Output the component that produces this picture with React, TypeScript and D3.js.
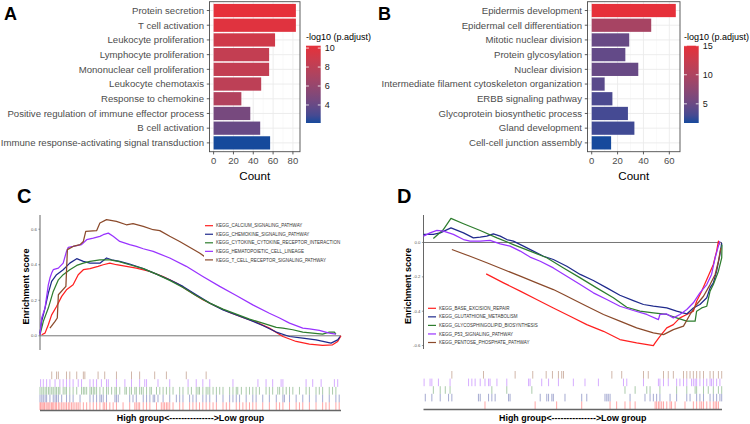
import React from 'react';
import * as d3 from 'd3';

// ---- GO enrichment (panels A and B) ----
const goACategories = [
  'Protein secretion',
  'T cell activation',
  'Leukocyte proliferation',
  'Lymphocyte proliferation',
  'Mononuclear cell proliferation',
  'Leukocyte chemotaxis',
  'Response to chemokine',
  'Positive regulation of immune effector process',
  'B cell activation',
  'Immune response-activating signal transduction',
];
const goACounts = [83, 83, 62, 56, 56, 48, 28, 37, 47, 57];
const goAScores = [10.25, 9.9, 9.0, 8.3, 8.3, 8.0, 7.4, 4.6, 4.0, 2.1];
const goATicks = [0, 20, 40, 60, 80];
const goALegendTicks = [4, 6, 8, 10];

const goBCategories = [
  'Epidermis development',
  'Epidermal cell differentiation',
  'Mitotic nuclear division',
  'Protein glycosylation',
  'Nuclear division',
  'Intermediate filament cytoskeleton organization',
  'ERBB signaling pathway',
  'Glycoprotein biosynthetic process',
  'Gland development',
  'Cell-cell junction assembly',
];
const goBCounts = [65, 46, 29, 26, 36, 10, 16, 28, 33, 15];
const goBScores = [15.0, 9.5, 4.8, 4.5, 4.8, 4.0, 3.3, 3.0, 2.8, 1.7];
const goBTicks = [0, 20, 40, 60];
const goBLegendTicks = [5, 10, 15];

// ---- GSEA panel C (rank %, enrichment score) ----
const cNames = [
  'KEGG_CALCIUM_SIGNALING_PATHWAY',
  'KEGG_CHEMOKINE_SIGNALING_PATHWAY',
  'KEGG_CYTOKINE_CYTOKINE_RECEPTOR_INTERACTION',
  'KEGG_HEMATOPOIETIC_CELL_LINEAGE',
  'KEGG_T_CELL_RECEPTOR_SIGNALING_PATHWAY',
];
const cCalcium: [number, number][] = [[0.55,0.006],[1.66,0.015],[2.76,0.062],[3.87,0.118],[5.5,0.165],[7.2,0.222],[8.8,0.259],[11.0,0.287],[12.7,0.344],[14.4,0.372],[16.6,0.378],[19.3,0.391],[21.0,0.4],[23.2,0.409],[25.4,0.4],[28.7,0.391],[32.0,0.381],[36.5,0.362],[40.9,0.334],[45.3,0.297],[49.7,0.25],[54.1,0.203],[58.6,0.165],[63.0,0.131],[67.4,0.103],[71.8,0.077],[76.2,0.043],[80.7,-0.004],[85.1,-0.032],[89.5,-0.047],[93.9,-0.054],[97.2,-0.051],[98.9,-0.032],[100,0]];
const cChemokine: [number, number][] = [[0,0.015],[0.55,0.081],[1.66,0.156],[2.76,0.24],[3.87,0.306],[5.5,0.344],[7.7,0.372],[9.9,0.409],[12.2,0.434],[14.4,0.419],[16.6,0.409],[19.9,0.409],[22.1,0.438],[23.8,0.428],[26.5,0.419],[29.8,0.404],[34.3,0.378],[38.7,0.347],[43.1,0.315],[47.5,0.278],[51.9,0.231],[56.4,0.184],[60.8,0.146],[65.2,0.118],[69.6,0.09],[74.0,0.058],[78.5,0.021],[82.9,-0.004],[87.3,-0.013],[91.7,-0.023],[96.7,-0.041],[98.9,-0.023],[99.7,-0.004]];
const cCytokine: [number, number][] = [[0,0.006],[1.1,0.081],[2.76,0.156],[4.4,0.25],[6.1,0.315],[7.7,0.344],[9.9,0.372],[12.2,0.396],[14.4,0.409],[16.6,0.419],[19.9,0.428],[23.2,0.428],[26.0,0.419],[29.8,0.4],[34.3,0.378],[38.7,0.347],[43.1,0.312],[47.5,0.272],[51.9,0.225],[56.4,0.184],[60.8,0.15],[65.2,0.122],[69.6,0.094],[74.0,0.071],[78.5,0.047],[80.7,0.043],[84.0,0.034],[87.3,0.021],[90.6,0.015],[93.9,0.009],[96.1,0.021],[97.8,0.021],[98.3,0.009]];
const cHematopoietic: [number, number][] = [[0,0.006],[0.55,0.1],[1.66,0.156],[2.76,0.287],[3.3,0.325],[3.87,0.353],[4.4,0.372],[6.1,0.381],[7.7,0.409],[8.8,0.475],[9.4,0.498],[11.0,0.503],[13.8,0.513],[15.5,0.541],[17.7,0.55],[19.9,0.56],[21.0,0.569],[22.7,0.578],[24.3,0.56],[26.5,0.531],[29.8,0.513],[32.0,0.503],[34.3,0.49],[37.6,0.475],[43.1,0.438],[48.6,0.391],[54.1,0.334],[59.7,0.278],[65.2,0.227],[70.7,0.174],[76.2,0.127],[79.6,0.1],[82.9,0.071],[87.3,0.043],[89.5,0.039],[92.8,0.03],[96.1,0.015],[98.3,0.009]];
const cTCell: [number, number][] = [[3.3,0.043],[5.0,0.081],[5.75,0.1],[6.1,0.231],[8.6,0.278],[9.1,0.485],[11.0,0.503],[13.3,0.513],[14.4,0.531],[15.2,0.588],[18.8,0.592],[19.9,0.635],[22.1,0.654],[25.4,0.644],[28.7,0.625],[30.9,0.631],[34.3,0.616],[37.6,0.597],[39.8,0.592],[43.1,0.56],[46.4,0.531],[49.7,0.498],[53.0,0.466],[55.2,0.44]];
const cYTicks = [0, 0.2, 0.4, 0.6];

const cRugCalcium = [0,0.3,0.7,1.1,1.5,2.0,2.4,2.9,3.3,3.8,4.2,4.6,5.1,5.5,6.1,6.6,7.2,7.7,8.3,8.8,9.4,9.9,10.5,11.0,11.6,12.2,12.7,13.3,14.4,15.5,16.6,17.7,18.8,19.9,21.0,21.5,22.1,23.2,24.3,25.4,27.6,29.8,31.5,32.0,32.6,33.1,34.3,35.4,36.5,38.7,40.3,40.9,41.4,42.0,42.5,43.1,44.2,46.4,47.5,49.7,50.8,51.9,53.0,54.1,55.2,56.4,57.5,58.6,60.8,61.9,63.0,65.2,66.3,67.4,68.5,69.6,70.7,71.8,74.0,76.2,78.5,79.6,80.7,82.9,85.1,86.2,87.3,89.5,91.7,93.9,95.0,96.1,98.3,99.4];
const cRugChemokine = [0,0.6,1.1,1.7,2.2,3.3,4.4,5.0,5.5,6.1,7.2,8.8,9.9,11.0,13.3,16.6,17.7,18.8,19.9,20.4,21.0,22.1,24.9,25.4,26.0,29.8,30.9,32.0,34.3,35.4,36.5,37.6,38.1,39.2,40.9,43.1,45.3,46.4,47.5,49.7,50.8,51.9,54.1,55.2,56.4,58.6,60.8,63.0,64.1,65.2,66.3,68.5,70.7,71.8,74.0,76.2,78.5,80.7,81.2,82.9,85.1,87.3,89.5,91.7,93.9,96.1,98.3,99.4];
const cRugCytokine = [0,0.6,1.1,1.7,2.2,2.8,3.3,3.9,4.4,5.0,5.5,6.1,6.6,7.7,8.3,8.8,9.9,11.0,12.2,13.8,14.4,14.9,15.5,16.6,17.1,17.7,18.2,18.8,19.9,21.0,22.1,22.7,23.8,24.9,25.4,26.5,28.2,28.7,29.8,30.4,31.5,32.0,33.1,33.7,34.3,35.4,36.5,37.0,38.7,39.8,40.9,42.0,43.1,44.2,46.4,47.5,49.2,50.3,51.9,52.5,53.0,54.1,55.2,55.8,56.4,57.5,58.6,59.7,60.8,63.0,64.1,65.2,65.7,66.9,68.5,69.6,70.7,71.8,72.9,75.1,76.2,77.3,79.0,79.6,80.7,81.8,82.9,84.0,86.2,88.4,89.5,91.7,92.8,93.9,96.1,97.2,98.3];
const cRugHematopoietic = [0.2,1.1,2.2,3.3,5.0,6.6,7.7,8.8,9.9,11.0,12.7,13.8,16.6,17.7,18.8,20.4,22.1,22.7,25.4,28.2,30.4,33.1,34.8,35.4,39.2,43.1,49.2,51.9,54.1,56.4,64.1,72.4,75.1,77.3,80.1,80.7,88.4,90.6,93.4,97.8,98.9];
const cRugTCell = [3.9,5.5,6.1,8.8,9.9,12.2,14.4,14.9,19.3,21.5,25.4,30.4,33.1,38.1,42.0,48.6,55.2];

// ---- GSEA panel D ----
const dNames = [
  'KEGG_BASE_EXCISION_REPAIR',
  'KEGG_GLUTATHIONE_METABOLISM',
  'KEGG_GLYCOSPHINGOLIPID_BIOSYNTHESIS',
  'KEGG_P53_SIGNALING_PATHWAY',
  'KEGG_PENTOSE_PHOSPHATE_PATHWAY',
];
const dBaseExcision: [number, number][] = [[21.0,-0.183],[26.8,-0.235],[32.4,-0.283],[37.9,-0.332],[43.5,-0.381],[49.1,-0.429],[54.7,-0.478],[60.3,-0.517],[65.8,-0.565],[71.4,-0.584],[77.0,-0.6],[77.6,-0.584],[79.2,-0.546],[81.5,-0.497],[83.7,-0.478],[85.9,-0.439],[88.2,-0.419],[90.4,-0.4],[91.5,-0.342],[93.2,-0.283],[94.9,-0.216],[97.1,-0.128],[98.2,-0.05],[98.8,0.008],[99.3,-0.012]];
const dGlutathione: [number, number][] = [[0,0.047],[3.3,0.047],[5.6,0.056],[9.2,0.085],[13.4,0.056],[16.7,0.027],[19.0,0.031],[21.2,0.037],[23.4,0.05],[25.7,0.037],[27.9,0.017],[30.1,0.008],[33.5,-0.021],[36.8,-0.05],[40.2,-0.08],[43.5,-0.099],[48.0,-0.138],[52.5,-0.186],[56.9,-0.221],[61.4,-0.264],[65.8,-0.307],[70.3,-0.338],[73.7,-0.361],[77.0,-0.371],[81.5,-0.381],[84.8,-0.4],[88.2,-0.416],[90.4,-0.381],[92.6,-0.361],[94.9,-0.322],[96.0,-0.264],[97.1,-0.235],[98.2,-0.167],[99.3,-0.07],[99.9,-0.002]];
const dGlycosphingolipid: [number, number][] = [[3.3,0.023],[6.7,0.076],[9.2,0.14],[13.4,0.109],[19.0,0.07],[24.6,0.027],[30.1,-0.012],[35.7,-0.05],[41.3,-0.089],[46.9,-0.148],[52.5,-0.206],[58.0,-0.264],[63.6,-0.322],[68.1,-0.377],[72.5,-0.4],[77.0,-0.41],[81.5,-0.419],[84.8,-0.439],[88.2,-0.458],[91.0,-0.458],[91.5,-0.4],[93.2,-0.381],[94.9,-0.371],[96.0,-0.283],[97.1,-0.245],[98.8,-0.167],[99.9,-0.089],[100,-0.012]];
const dP53: [number, number][] = [[0,0.037],[2.2,0.056],[4.5,0.07],[6.7,0.066],[10.0,0.047],[13.4,0.017],[15.6,0.008],[19.0,0.008],[22.3,0.012],[25.7,-0.008],[29.0,-0.021],[32.4,-0.05],[35.7,-0.085],[39.1,-0.109],[43.5,-0.148],[48.0,-0.196],[52.5,-0.245],[56.9,-0.293],[61.4,-0.332],[65.8,-0.371],[70.3,-0.396],[74.8,-0.419],[78.7,-0.449],[79.2,-0.419],[81.5,-0.416],[83.7,-0.439],[85.9,-0.419],[88.2,-0.39],[90.4,-0.351],[92.6,-0.293],[94.9,-0.245],[96.5,-0.186],[97.7,-0.089],[98.8,-0.021],[99.3,0.008]];
const dPentose: [number, number][] = [[9.5,-0.041],[15.6,-0.08],[21.2,-0.118],[26.8,-0.157],[32.4,-0.196],[37.9,-0.235],[43.5,-0.274],[46.9,-0.303],[50.2,-0.332],[54.7,-0.371],[60.3,-0.419],[65.8,-0.458],[71.4,-0.497],[77.0,-0.526],[80.4,-0.536],[83.7,-0.507],[87.1,-0.487],[89.3,-0.419],[91.5,-0.361],[93.8,-0.313],[96.0,-0.245],[97.7,-0.186],[98.8,-0.109],[99.6,-0.031]];
const dYTicks = [0, -0.2, -0.4, -0.6];

const dRugBaseExcision = [20.6,37.4,44.6,53.0,62.5,64.7,67.5,69.2,70.9,77.6,78.1,78.7,79.2,79.8,80.4,81.5,82.6,83.1,84.3,87.6,90.4,91.5,92.6,93.2,93.8,94.9,96.0,97.1,97.7,98.2,98.8];
const dRugGlutathione = [0.6,2.8,5.6,8.4,9.5,18.4,19.0,21.8,22.9,24.0,28.5,29.0,39.1,41.3,41.9,43.0,43.5,47.4,53.0,54.7,60.8,61.4,61.9,62.5,69.2,74.2,75.9,77.0,78.1,79.2,82.6,84.8,88.2,89.3,91.5,92.6,93.8,96.0,97.1,98.2,99.3,99.9];
const dRugGlycosphingolipid = [3.3,5.6,7.3,8.9,22.9,27.9,36.3,67.5,70.9,74.8,75.9,79.2,84.8,88.2,91.0,91.5,93.8,95.4,97.1,98.8,99.9];
const dRugP53 = [0.2,2.2,2.8,5.0,8.9,15.1,16.2,17.3,19.0,20.6,21.8,22.3,24.6,27.9,35.2,35.7,39.6,41.9,45.2,50.2,54.1,58.6,67.0,68.1,73.7,78.7,79.2,80.4,82.0,84.8,85.9,87.1,88.2,89.8,90.4,91.0,91.5,92.6,93.8,94.9,96.0,96.5,97.1,98.2,99.3];
const dRugPentose = [9.5,20.1,30.7,36.6,41.1,43.2,45.2,46.3,46.9,63.1,66.4,73.7,75.3,80.4,82.0,83.7,87.1,88.2,89.3,90.4,91.5,92.6,93.8,96.0,97.1,98.8,99.9];

const seriesColors = ['#ff2020', '#1f2a8c', '#2e7d2e', '#9933ff', '#8b4a2b'];
const FONT = 'Liberation Sans, Arial, Helvetica, sans-serif';
const LOW = '#164a9c';
const HIGH = '#e6303a';

interface GoProps {
  letter: string;
  letterX: number;
  cats: string[];
  counts: number[];
  scores: number[];
  xTicks: number[];
  legendTicks: number[];
  left: number;
  right: number;
  legendX: number;
  id: string;
}

const GoPanel = ({ letter, letterX, cats, counts, scores, xTicks, legendTicks, left, right, legendX, id }: GoProps) => {
  const top = 1.7, bottom = 151.7;
  const maxC = d3.max(counts) as number;
  const x = d3.scaleLinear().domain([-maxC * 0.05, maxC * 1.05]).range([left, right]);
  const y = d3.scalePoint<string>().domain(cats).range([top, bottom]).padding(0.6);
  const bh = y.step() * 0.9;
  const [lo, hi] = d3.extent(scores) as [number, number];
  const color = d3.scaleLinear<string>().domain([lo, hi]).range([LOW, HIGH]).interpolate(d3.interpolateLab);
  const minors = xTicks.slice(0, -1).map((t, i) => (t + xTicks[i + 1]) / 2);
  const lTop = 45.7, lBot = 123, lW = 14.7;
  const ly = d3.scaleLinear().domain([lo, hi]).range([lBot, lTop]);
  const stops = d3.range(0, 1.0001, 0.1);

  return (
    <g fontFamily={FONT}>
      <text x={letterX} y={20} fontSize={18} fontWeight="bold">{letter}</text>
      <rect x={left} y={top} width={right - left} height={bottom - top} fill="#fff" />
      {minors.map(t => (
        <line key={'m' + t} x1={x(t)} x2={x(t)} y1={top} y2={bottom} stroke="#f2f2f2" strokeWidth={0.5} />
      ))}
      {xTicks.map(t => (
        <line key={'g' + t} x1={x(t)} x2={x(t)} y1={top} y2={bottom} stroke="#ebebeb" strokeWidth={0.9} />
      ))}
      {cats.map(c => (
        <line key={'h' + c} x1={left} x2={right} y1={y(c)} y2={y(c)} stroke="#ebebeb" strokeWidth={0.9} />
      ))}
      {cats.map((c, i) => (
        <rect key={'b' + c} x={x(0)} y={(y(c) as number) - bh / 2} width={x(counts[i]) - x(0)} height={bh} fill={color(scores[i])} />
      ))}
      <rect x={left} y={top} width={right - left} height={bottom - top} fill="none" stroke="#4d4d4d" strokeWidth={0.9} />
      {cats.map(c => (
        <g key={'l' + c}>
          <line x1={left - 2.7} x2={left} y1={y(c)} y2={y(c)} stroke="#333" strokeWidth={0.8} />
          <text x={left - 5.5} y={(y(c) as number) + 3.3} fontSize={9.6} textAnchor="end" fill="#4d4d4d">{c}</text>
        </g>
      ))}
      {xTicks.map(t => (
        <g key={'t' + t}>
          <line x1={x(t)} x2={x(t)} y1={bottom} y2={bottom + 2.7} stroke="#333" strokeWidth={0.8} />
          <text x={x(t)} y={bottom + 12.3} fontSize={9.5} textAnchor="middle" fill="#4d4d4d">{t}</text>
        </g>
      ))}
      <text x={(left + right) / 2} y={179.5} fontSize={11.6} textAnchor="middle" fill="#000">Count</text>
      <defs>
        <linearGradient id={id} x1="0" y1="1" x2="0" y2="0">
          {stops.map(s => (
            <stop key={s} offset={s} stopColor={color(lo + s * (hi - lo))} />
          ))}
        </linearGradient>
      </defs>
      <text x={legendX} y={39.5} fontSize={9} fill="#000">-log10 (p.adjust)</text>
      <rect x={legendX} y={lTop} width={lW} height={lBot - lTop} fill={`url(#${id})`} />
      {legendTicks.map(t => (
        <g key={'lt' + t}>
          <line x1={legendX} x2={legendX + 2.9} y1={ly(t)} y2={ly(t)} stroke="#fff" strokeWidth={0.8} />
          <line x1={legendX + lW - 2.9} x2={legendX + lW} y1={ly(t)} y2={ly(t)} stroke="#fff" strokeWidth={0.8} />
          <text x={legendX + lW + 4} y={ly(t) + 3.2} fontSize={9} fill="#1a1a1a">{t}</text>
        </g>
      ))}
    </g>
  );
};

interface GseaProps {
  letter: string;
  letterX: number;
  names: string[];
  curves: [number, number][][];
  rugs: number[][];
  xRange: [number, number];
  yDomain: [number, number];
  yRange: [number, number];
  yTicks: number[];
  legendX: number;
  legendY: number;
  legendBox: boolean;
  rugTop: number;
  rugBottom: number;
  titleX: number;
}

const GseaPanel = (p: GseaProps) => {
  const x = d3.scaleLinear().domain([0, 100]).range(p.xRange);
  const y = d3.scaleLinear().domain(p.yDomain).range(p.yRange);
  const line = d3.line<[number, number]>().x(d => x(d[0])).y(d => y(d[1]));
  const rows = d3.scaleBand<string>().domain([...p.names].reverse()).range([p.rugTop, p.rugBottom]);
  const step = 8.55;
  const midX = (p.xRange[0] + p.xRange[1]) / 2;
  const widest = 0.63 * 4.5 * (d3.max(p.names, n => n.length) as number);

  return (
    <g fontFamily={FONT}>
      <text x={p.letterX} y={203} fontSize={20} fontWeight="bold">{p.letter}</text>
      <line x1={x(0)} x2={x(0)} y1={p.yRange[0]} y2={p.yRange[1]} stroke="#555" strokeWidth={0.9} />
      {p.yTicks.map(t => (
        <g key={t}>
          <line x1={x(0) - 1.6} x2={x(0)} y1={y(t)} y2={y(t)} stroke="#555" strokeWidth={0.6} />
          <text x={x(0) - 3} y={y(t) + 1.5} fontSize={4.3} textAnchor="end" fill="#555">{t.toFixed(1)}</text>
        </g>
      ))}
      <line x1={x(0)} x2={x(100)} y1={y(0)} y2={y(0)} stroke="#666" strokeWidth={0.9} />
      {p.curves.map((c, i) => (
        <path key={i} d={line(c) as string} fill="none" stroke={seriesColors[i]} strokeWidth={1.25} strokeLinejoin="round" />
      ))}
      {p.legendBox && (
        <rect x={p.legendX - 1} y={p.legendY - 5} width={widest + 14} height={step * 5 + 1} fill="#fff" />
      )}
      {p.names.map((n, i) => (
        <g key={n}>
          <line x1={p.legendX} x2={p.legendX + 8} y1={p.legendY + i * step} y2={p.legendY + i * step} stroke={seriesColors[i]} strokeWidth={1.2} />
          <text x={p.legendX + 11} y={p.legendY + i * step + 1.6} fontSize={4.5} fill="#333">{n}</text>
        </g>
      ))}
      <text
        transform={`translate(${p.titleX},${(p.yRange[0] + p.yRange[1]) / 2 + 4}) rotate(-90)`}
        fontSize={9}
        fontWeight="bold"
        textAnchor="middle"
      >Enrichment score</text>
      {p.rugs.map((r, i) => (
        <g key={'r' + i}>
          {r.map((v, j) => (
            <line
              key={j}
              x1={x(v)}
              x2={x(v)}
              y1={rows(p.names[i]) as number}
              y2={(rows(p.names[i]) as number) + rows.bandwidth()}
              stroke={seriesColors[i]}
              strokeOpacity={0.4}
              strokeWidth={1}
            />
          ))}
        </g>
      ))}
      <line x1={x(0)} x2={x(100)} y1={p.rugBottom + 0.5} y2={p.rugBottom + 0.5} stroke="#666" strokeWidth={1.3} />
      <text x={midX} y={420.5} fontSize={8.9} fontWeight="bold" textAnchor="middle">High group&lt;---------------&gt;Low group</text>
    </g>
  );
};

export default function App() {
  return (
    <svg width={750} height={424} style={{ position: 'absolute', left: 0, top: 0, background: '#fff' }}>
      <rect width={750} height={424} fill="#fff" />
      <GoPanel
        id="gradA"
        letter="A"
        letterX={4}
        cats={goACategories}
        counts={goACounts}
        scores={goAScores}
        xTicks={goATicks}
        legendTicks={goALegendTicks}
        left={209.5}
        right={300}
        legendX={306}
      />
      <GoPanel
        id="gradB"
        letter="B"
        letterX={378}
        cats={goBCategories}
        counts={goBCounts}
        scores={goBScores}
        xTicks={goBTicks}
        legendTicks={goBLegendTicks}
        left={587.5}
        right={680}
        legendX={684}
      />
      <GseaPanel
        letter="C"
        letterX={17}
        names={cNames}
        curves={[cCalcium, cChemokine, cCytokine, cHematopoietic, cTCell]}
        rugs={[cRugCalcium, cRugChemokine, cRugCytokine, cRugHematopoietic, cRugTCell]}
        xRange={[40, 341]}
        yDomain={[-0.08, 0.68]}
        yRange={[350, 215]}
        yTicks={cYTicks}
        legendX={205}
        legendY={225.7}
        legendBox={true}
        rugTop={371.5}
        rugBottom={410}
        titleX={28.7}
      />
      <GseaPanel
        letter="D"
        letterX={397}
        names={dNames}
        curves={[dBaseExcision, dGlutathione, dGlycosphingolipid, dP53, dPentose]}
        rugs={[dRugBaseExcision, dRugGlutathione, dRugGlycosphingolipid, dRugP53, dRugPentose]}
        xRange={[423.5, 722]}
        yDomain={[-0.62, 0.16]}
        yRange={[349, 215]}
        yTicks={dYTicks}
        legendX={428}
        legendY={308.3}
        legendBox={false}
        rugTop={371}
        rugBottom={409}
        titleX={411}
      />
    </svg>
  );
}
